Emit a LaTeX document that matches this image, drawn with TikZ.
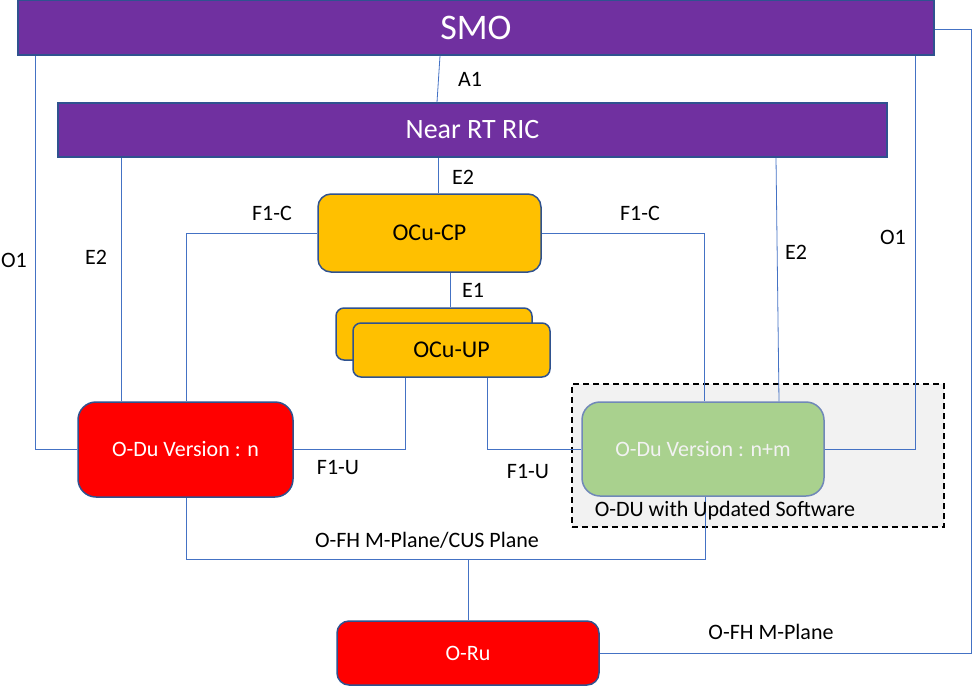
\documentclass[tikz,border=0pt]{standalone}
\usepackage{fontspec}
\setmainfont{Carlito}
\definecolor{purp}{HTML}{7030A0}
\definecolor{bord}{HTML}{2F528F}
\definecolor{gold}{HTML}{FFC000}
\definecolor{grn}{HTML}{A9D18E}
\definecolor{grnbord}{HTML}{7088B8}
\definecolor{lnk}{HTML}{4472C4}
\definecolor{lnklight}{HTML}{8FAADC}
\definecolor{lightgray}{HTML}{F2F2F2}
\begin{document}
\begin{tikzpicture}[x=1pt,y=-1pt,
  purplebox/.style={rectangle,fill=purp,draw=bord,line width=1.5pt,text=white,inner sep=0pt},
  goldbox/.style={rectangle,rounded corners=13pt,fill=gold,draw=bord,line width=1.5pt,inner sep=0pt,font=\fontsize{24}{28}\selectfont},
  redbox/.style={rectangle,rounded corners=18pt,fill=red,draw=bord,line width=1.5pt,text=white,inner sep=0pt,font=\fontsize{22}{26}\selectfont},
  greenbox/.style={rectangle,rounded corners=18pt,fill=grn,draw=grnbord,line width=1.5pt,text=lightgray,inner sep=0pt,font=\fontsize{22}{26}\selectfont},
  conn/.style={draw=lnk,line width=0.8pt},
  connl/.style={draw=lnklight,line width=0.8pt},
  lbl/.style={inner sep=0pt,font=\fontsize{22}{26}\selectfont}]
\useasboundingbox (0,0) rectangle (972,686);

% dashed group box
\node[rectangle,fill=lightgray,draw=black,line width=1.6pt,dash pattern=on 6pt off 4pt,
  minimum width=372,minimum height=143,inner sep=0pt] (grp) at (758,455.5) {};

% boxes
\node[purplebox,minimum width=916,minimum height=55,font=\fontsize{36}{40}\selectfont] (smo) at (476,27.5) {SMO};
\node[purplebox,minimum width=829,minimum height=54,font=\fontsize{28}{32}\selectfont] (ric) at (472.5,130) {Near RT RIC};
\node[goldbox,minimum width=223,minimum height=78] (ocucp) at (429.5,233) {OCu-CP};
\node[goldbox,rounded corners=8pt,minimum width=196,minimum height=52] (ocuupb) at (434,334) {};
\node[goldbox,rounded corners=8pt,minimum width=197,minimum height=54] (ocuup) at (451.5,350) {OCu-UP};
\node[redbox,minimum width=215,minimum height=95] (odun) at (185.5,449.5) {O-Du Version : n};
\node[greenbox,minimum width=242,minimum height=94] (odum) at (703,449) {O-Du Version : n+m};
\node[redbox,rounded corners=12pt,minimum width=262,minimum height=64] (oru) at (468,653) {O-Ru};

% coordinates
\coordinate (busr) at (705,559);
\coordinate (outer) at (971,29);

% connectors
\draw[conn] (smo.south -| 440,0) -- (ric.north -| 437,0);
\draw[conn] (ric.south -| 438,0) -- (ocucp.north -| 438,0);
\draw[conn] (ocucp.south -| 450,0) -- (ocuupb.north -| 450,0);
\draw[conn] (smo.south -| 35,0) |- (odun.west);
\draw[conn] (ric.south -| 121,0) -- (odun.north -| 121,0);
\draw[conn] (ocucp.west) -| (odun.north -| 186,0);
\draw[conn] (ocuup.south -| 405,0) |- (odun.east);
\draw[conn] (ocucp.east) -| (odum.north -| 704,0);
\draw[conn] (ocuup.south -| 487,0) |- (odum.west);
\draw[conn] (ric.south -| 776,0) -- (odum.north -| 779,0);
\draw[conn] (smo.south -| 915,0) |- (odum.east);
\draw[conn] (odun.south -| 186,0) |- (busr) -- (odum.south -| busr);
\draw[conn] (oru.north |- busr) -- (oru.north);
\draw[conn] (oru.east) -| (outer) -- (outer -| smo.east);

% labels
\node[lbl] (la1) at (470,79) {A1};
\node[lbl] (le2c) at (463,177) {E2};
\node[lbl] (le1) at (473,290) {E1};
\node[lbl] (lf1cl) at (272,213) {F1-C};
\node[lbl] (lf1cr) at (640,213) {F1-C};
\node[lbl] (le2l) at (96,257) {E2};
\node[lbl] (lo1l) at (14,260) {O1};
\node[lbl] (le2r) at (796,252) {E2};
\node[lbl] (lo1r) at (893,237) {O1};
\node[lbl] (lf1ul) at (338,467) {F1-U};
\node[lbl] (lf1ur) at (528,471) {F1-U};
\node[lbl] (lofh) at (427,540) {O-FH M-Plane/CUS Plane};
\node[lbl] (lofhm) at (771,632) {O-FH M-Plane};
\node[lbl] (lgrp) at (725,511) {O-DU with Updated Software};
\end{tikzpicture}
\end{document}
